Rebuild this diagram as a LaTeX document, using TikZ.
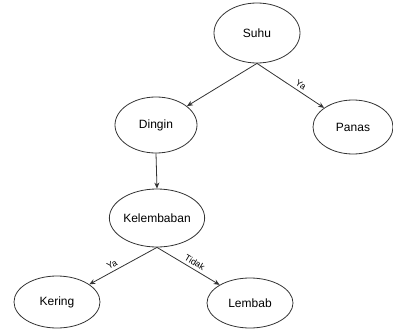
\documentclass[tikz,border=0pt]{standalone}
\usepackage{fontspec}
\setmainfont{Liberation Sans}
\usetikzlibrary{shapes.geometric,arrows.meta,positioning}

\begin{document}
\begin{tikzpicture}[x=1pt,y=-1pt,
  keadaan/.style={ellipse,draw=black!80,line width=0.8pt,inner sep=0pt,font=\fontsize{12}{14}\selectfont},
  panah/.style={draw=black!80,line width=0.8pt,-{Stealth[length=6pt,width=5pt]}},
  ket/.style={sloped,above,inner sep=3pt,font=\fontsize{9}{10}\selectfont}]
\useasboundingbox(0,0)rectangle(393,329);
\node[keadaan,minimum width=86pt,minimum height=60pt](suhu)at(257,33){Suhu};
\node[keadaan,minimum width=82pt,minimum height=56pt](dingin)at(156,125){Dingin};
\node[keadaan,minimum width=80pt,minimum height=54pt](panas)at(353,127){Panas};
\node[keadaan,minimum width=86pt,minimum height=58pt](lembaban)at(157,218){Kelembaban};
\node[keadaan,minimum width=86pt,minimum height=52pt](kering)at(57,302){Kering};
\node[keadaan,minimum width=86pt,minimum height=50pt](lembab)at(250,303){Lembab};
\draw[panah](suhu.south)--(dingin);
\draw[panah](suhu.south)--node[ket,pos=0.6]{Ya}(panas);
\draw[panah](dingin.south)--(lembaban.north);
\draw[panah](lembaban.south)--node[ket,pos=0.62]{Ya}(kering);
\draw[panah](lembaban.south)--node[ket,pos=0.55]{Tidak}(lembab);
\end{tikzpicture}
\end{document}
